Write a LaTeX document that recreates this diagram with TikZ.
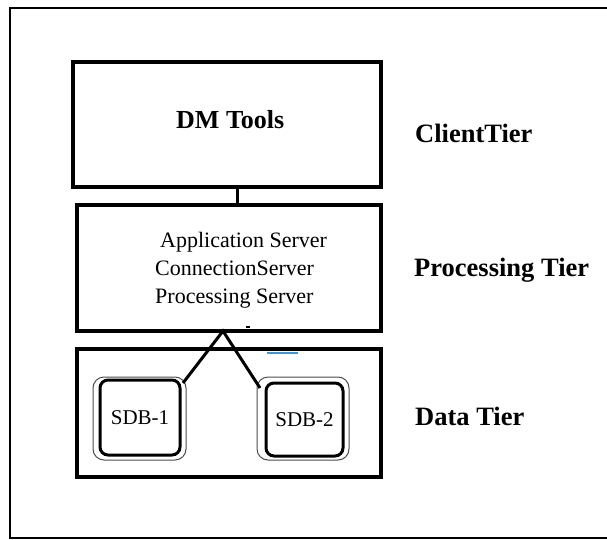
\documentclass[tikz,border=0pt]{standalone}
\usepackage{fontspec}
\setmainfont{Liberation Serif}
\definecolor{markblue}{RGB}{60,150,220}
\begin{document}
\begin{tikzpicture}[x=1pt,y=-1pt,
  tierbox/.style={draw, line width=3.5pt, inner sep=0pt},
  dbouter/.style={draw=black!70, line width=1pt, rounded corners=11pt, inner sep=0pt},
  dbinner/.style={draw, line width=3pt, rounded corners=8pt, inner sep=0pt,
    font=\fontsize{21}{24}\selectfont},
  tierlabel/.style={anchor=base west, inner sep=0pt, font=\bfseries\fontsize{26.5}{30}\selectfont},
  proctext/.style={anchor=base west, inner sep=0pt, font=\fontsize{22}{26}\selectfont},
  link/.style={line width=3pt}]
\useasboundingbox (0,0) rectangle (607,540);
% outer frame
\draw[line width=2pt] (607,8) -- (10,8) -- (10,538) -- (607,538);
% tier boxes
\node[tierbox, line width=4.5pt, minimum width=308pt, minimum height=125pt] (dm) at (227,124.5) {};
\node[tierbox, minimum width=304pt, minimum height=126pt] (proc) at (229,268) {};
\node[tierbox, minimum width=304pt, minimum height=128pt] (data) at (229,413) {};
% box texts
\node[anchor=base west, inner sep=0pt, font=\bfseries\fontsize{26}{30}\selectfont] (dmt) at (176,129) {DM Tools};
\node[proctext] (pl1) at (160,247) {Application Server};
\node[proctext] (pl2) at (155,275) {ConnectionServer};
\node[proctext] (pl3) at (155,303) {Processing Server};
% tier labels
\node[tierlabel] (lc) at (415,143) {ClientTier};
\node[tierlabel] (lp) at (414,276) {Processing Tier};
\node[tierlabel] (ld) at (415,425) {Data Tier};
% databases
\node[dbouter, minimum width=93pt, minimum height=83pt] (s1o) at (139.5,418.5) {};
\node[dbinner, minimum width=80pt, minimum height=75pt] (s1) at (140,417.5) {SDB-1};
\node[dbouter, minimum width=92pt, minimum height=83pt] (s2o) at (303,418.5) {};
\node[dbinner, minimum width=77pt, minimum height=73pt] (s2) at (304.5,419.5) {SDB-2};
% connectors
\draw[line width=3pt] ([xshift=10pt]dm.south) -- ([xshift=8pt]proc.north);
\coordinate (apex) at (223,331);
\coordinate (e1) at (183,383);
\coordinate (e2) at (260,388);
\draw[link, line join=miter] (e1) -- (apex) -- (e2);
% small marks
\draw[markblue, line width=2pt] (267,353) -- (298,353);
\draw[line width=2pt] (246,327) -- (250,327);
\end{tikzpicture}
\end{document}
